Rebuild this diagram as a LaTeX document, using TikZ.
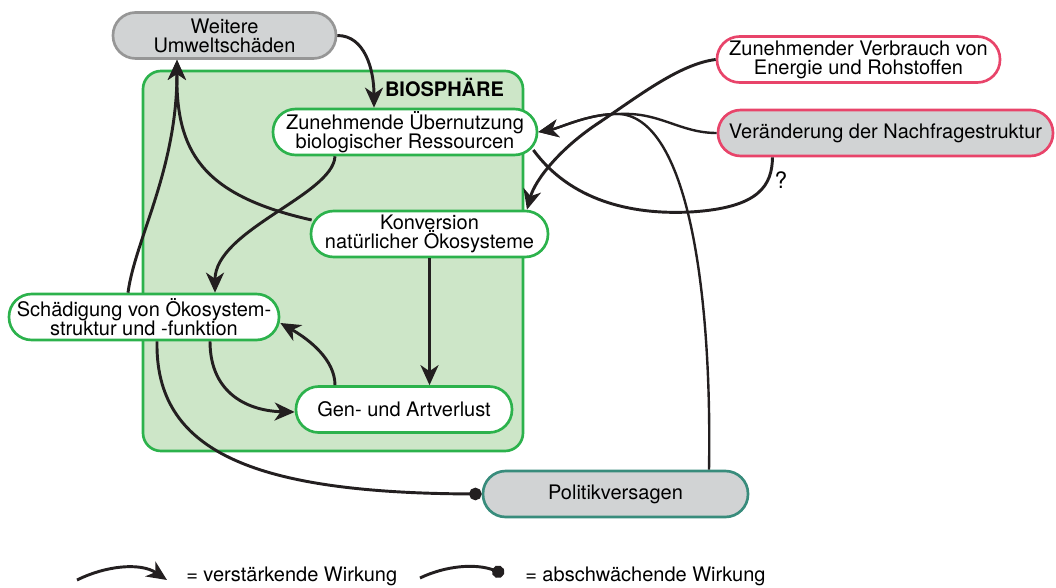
\documentclass[tikz,border=0pt]{standalone}
\usepackage{fontspec}
\setmainfont{TeX Gyre Heros}
\usetikzlibrary{arrows.meta,calc}
\definecolor{bgreen}{RGB}{44,178,76}
\definecolor{bgfill}{RGB}{205,230,200}
\definecolor{grayfill}{RGB}{209,211,212}
\definecolor{grayborder}{RGB}{150,150,150}
\definecolor{redborder}{RGB}{232,68,106}
\definecolor{tealborder}{RGB}{56,140,124}
\definecolor{lineblack}{RGB}{35,31,32}
\newcommand{\fsz}{\fontsize{15pt}{14.3pt}\selectfont}
\begin{document}
\begin{tikzpicture}[x=0.75pt,y=-0.75pt,
  box/.style={rectangle, rounded corners=17pt, line width=2pt, minimum height=34.5pt, inner sep=0pt, align=center, font=\fsz},
  greenbox/.style={box, draw=bgreen, fill=white},
  graybox/.style={box, draw=grayborder, fill=grayfill},
  redbox/.style={box, draw=redborder, fill=white},
  redgraybox/.style={box, draw=redborder, fill=grayfill},
  tealbox/.style={box, draw=tealborder, fill=grayfill},
  arr/.style={line width=2.2pt, draw=lineblack, -{Stealth[length=15pt,width=13.5pt,inset=4.5pt]}},
  arrthin/.style={line width=1.8pt, draw=lineblack, -{Stealth[length=15pt,width=13.5pt,inset=4.5pt]}},
  plainline/.style={line width=2.2pt, draw=lineblack},
  dotl/.style={line width=2.2pt, draw=lineblack, -{Circle[length=9.4pt]}},
  txt/.style={inner sep=0pt, font=\fsz}
]
\useasboundingbox (0,0) rectangle (1056,588);

% Biosphere area
\node[rectangle, rounded corners=13.5pt, line width=2pt, draw=bgreen, fill=bgfill,
      minimum width=285pt, minimum height=285pt, inner sep=0pt] (bio) at (333,261) {};
\node[txt, font=\fsz\bfseries] (biolabel) at (444.5,88) {BIOSPHÄRE};

% Nodes
\node[graybox, minimum width=167.25pt] (weitere) at (224.5,35.5) {Weitere\\Umweltschäden};
\node[greenbox, minimum width=198pt] (ueber) at (405,132) {Zunehmende Übernutzung\\biologischer Ressourcen};
\node[greenbox, minimum width=177.75pt] (konv) at (429.5,234) {Konversion\\natürlicher Ökosysteme};
\node[greenbox, minimum width=202.5pt] (schaed) at (144,317) {Schädigung von Ökosystem-\\struktur und -funktion};
\node[greenbox, minimum width=162pt] (gen) at (404,409.5) {Gen- und Artverlust};
\node[tealbox, minimum width=198.75pt] (politik) at (615.5,494) {Politikversagen};
\node[redbox, minimum width=212.25pt] (verbrauch) at (858.5,59.5) {Zunehmender Verbrauch von\\Energie und Rohstoffen};
\node[redgraybox, minimum width=251.25pt] (veraend) at (885.5,133) {Veränderung der Nachfragestruktur};

% Connectors inside / around biosphere
\draw[arr] (weitere.east) .. controls (365,35.5) and (374,70) .. ($(ueber.north)+(-31,0)$);
\draw[arr] ($(ueber.south)+(-70,0)$) .. controls (333,195) and (215,230) .. ($(schaed.north)+(71,0)$);
\draw[arr] ($(konv.west)+(2,-14)$) .. controls (200,195) and (176,150) .. ($(weitere.south)+(-47.5,0)$);
\draw[arr] ($(schaed.north)+(-16,0)$) .. controls (135,240) and (177,170) .. ($(weitere.south)+(-47.5,0)$);
\draw[arr] (konv.south) -- (konv.south |- gen.north);
\draw[arr] ($(schaed.south)+(66,0)$) .. controls (210,395) and (250,411) .. ($(gen.west)+(0,2.5)$);
\draw[arr] ($(gen.north)+(-69,0)$) .. controls (335,360) and (310,340) .. ($(schaed.east)+(0,6)$);
\draw[dotl] ($(schaed.south)+(13,0)$) .. controls (155,450) and (250,493) .. (politik.west);

% Right side connectors
\coordinate (j) at (620,114);
\draw[arrthin] ($(politik.north)+(93.5,0)$) .. controls (712,300) and (690,120) .. (j) .. controls (590,113) and (560,128) .. (ueber.east);
\draw[arrthin] (veraend.west) .. controls (680,133) and (660,112) .. (j) .. controls (590,113) and (560,128) .. (ueber.east);
\draw[arr] (verbrauch.west) .. controls (680,64) and (640,95) .. (600,122) .. controls (560,148) and (535,180) .. ($(konv.north)+(97.5,0)$);
\draw[plainline] ($(ueber.east)+(-5,18)$) .. controls (570,200) and (630,215) .. (690,212) .. controls (760,208) and (772,185) .. ($(veraend.south)+(-113,0)$);
\node[txt, font=\fontsize{17pt}{17pt}\selectfont] (qm) at (781,180) {?};

% Legend
\coordinate (la) at (77,580);
\coordinate (lb) at (167,580);
\draw[arr] (la) .. controls (105,566) and (140,562) .. (lb);
\node[txt, anchor=base west] (lt1) at (186,581) {= verstärkende Wirkung};
\coordinate (lc) at (420,578);
\coordinate (ld) at (504,574);
\draw[dotl] (lc) .. controls (445,566) and (475,563) .. (ld);
\node[txt, anchor=base west] (lt2) at (525,581) {= abschwächende Wirkung};
\end{tikzpicture}
\end{document}
